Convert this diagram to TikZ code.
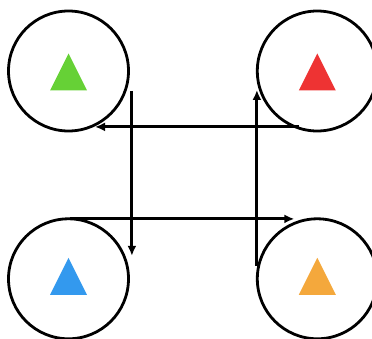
\documentclass[tikz,border=0pt]{standalone}
\usepackage{tikz}
\usepackage{xcolor}
\usetikzlibrary{positioning, arrows.meta}

\definecolor{triGreen}{HTML}{66D136}
\definecolor{triRed}{HTML}{EE3333}
\definecolor{triBlue}{HTML}{3399EE}
\definecolor{triOrange}{HTML}{F4A83C}

\begin{document}
\begin{tikzpicture}[x=1pt,y=1pt,->,>={Latex[length=10pt,width=9pt]},line width=3pt]
        \tikzstyle{every node}=[circle,draw,line width=2.8pt,minimum size=120pt,inner sep=0pt]
        \useasboundingbox (0,0) rectangle (372,338);

        \node (tl) at (68.5,267)   {};
        \node (tr) [right=126pt of tl] {};
        \node (bl) [below=85pt of tl]  {};
        \node (br) [below=85pt of tr]  {};

        \foreach \n/\c/\dy in {tl/triGreen/-1, tr/triRed/-1, bl/triBlue/2.5, br/triOrange/2.5}
            \fill[\c] ([shift={(-18.5pt,\dy pt-18.5pt)}]\n.center) -- ([shift={(18.5pt,\dy pt-18.5pt)}]\n.center)
                      -- ([shift={(0pt,\dy pt+18.5pt)}]\n.center) -- cycle;

        \coordinate (tlOut) at ([shift={(2pt,-20pt)}]tl.east);
        \coordinate (blIn)  at ([shift={(-1pt,23pt)}]bl.east);
        \coordinate (brOut) at ([shift={(1pt,13pt)}]br.west);
        \coordinate (trIn)  at ([yshift=-19pt]tr.west);
        \coordinate (trOut) at ([shift={(-18pt,5.5pt)}]tr.south);
        \coordinate (tlIn)  at ([shift={(26.5pt,5pt)}]tl.south);
        \coordinate (blOut) at ([shift={(1pt,-1.5pt)}]bl.north);
        \coordinate (brIn)  at ([shift={(-23pt,-2.7pt)}]br.north);

        \draw (tlOut) -- (tlOut |- blIn);
        \draw (brOut) -- (brOut |- trIn);
        \draw (trOut) -- (trOut -| tlIn);
        \draw (blOut) -- (blOut -| brIn);
\end{tikzpicture}
\end{document}
